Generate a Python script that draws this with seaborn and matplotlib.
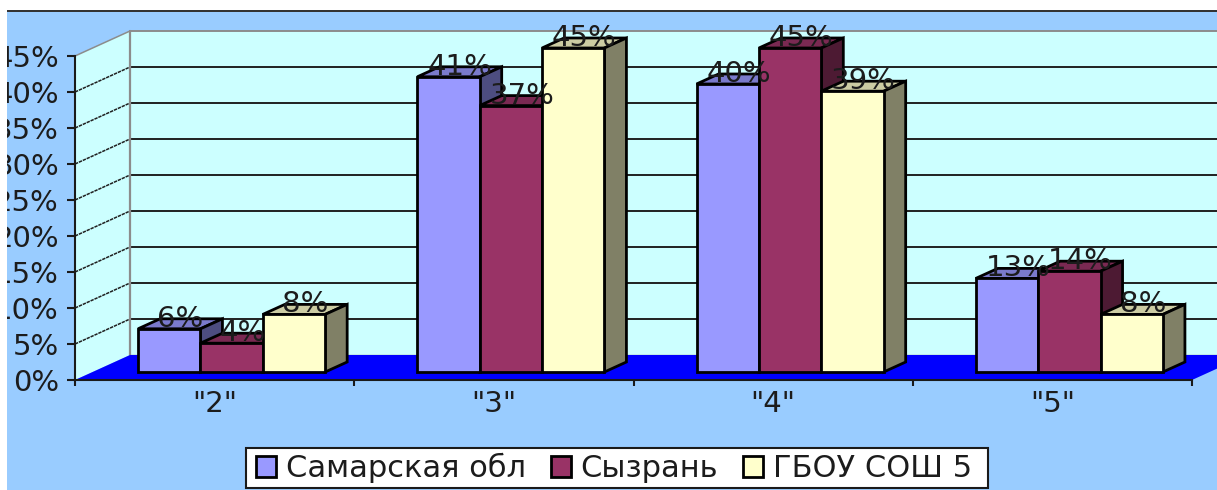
import matplotlib
matplotlib.use("Agg")
import matplotlib.pyplot as plt
from matplotlib.patches import Polygon, Rectangle
from matplotlib.ticker import FuncFormatter
import numpy as np
import pandas as pd
import seaborn as sns

categories = ['"2"', '"3"', '"4"', '"5"']
samara = [6, 41, 40, 13]
syzran = [4, 37, 45, 14]
school = [8, 45, 39, 8]
series_names = ["Самарская обл", "Сызрань", "ГБОУ СОШ 5"]
colors = ["#9999FF", "#993366", "#FFFFCC"]
yticks = list(range(0, 50, 5))

W, H = 1217, 490
BG, WALL, FLOOR = "#99CCFF", "#CCFFFF", "#0000FF"
TXT = "#1c1c1c"
FS = 21

sns.set_theme(style="white", rc={"font.family": ["DejaVu Sans"]})
fig = plt.figure(figsize=(W / 100, H / 100), dpi=100, facecolor=BG)
L, R, T, B = 75, 1192, 56, 380
ax = fig.add_axes([L / W, 1 - B / H, (R - L) / W, (B - T) / H])

df = pd.DataFrame({
    "cat": categories * 3,
    "series": [n for n in series_names for _ in categories],
    "value": samara + syzran + school,
})
sns.barplot(data=df, x="cat", y="value", hue="series", hue_order=series_names,
            palette=colors, saturation=1, width=0.67, gap=0, ax=ax, legend=True)
ax.set_xlim(-0.5, 3.5)
ax.set_ylim(0, 45)
ax.set_facecolor("none")
ax.set_xlabel("")
ax.set_ylabel("")
ppx = 4 / (R - L)           # data units per pixel on x
ppy = 45 / (B - T)          # data units per pixel on y

# walls and floor of the 3-D box
wx, wy = 55 * ppx, 25 * ppy
x0, x1 = -0.5, 3.5
ax.add_patch(Polygon([(x0 + wx, wy), (x1 + wx, wy), (x1 + wx, 45 + wy), (x0 + wx, 45 + wy)],
                     fc=WALL, ec="none", zorder=0.5, clip_on=False))
ax.add_patch(Polygon([(x0, 0), (x0 + wx, wy), (x0 + wx, 45 + wy), (x0, 45)],
                     fc=WALL, ec="none", zorder=0.5, clip_on=False))
ax.add_patch(Polygon([(x0, 0), (x1, 0), (x1 + wx, wy), (x0 + wx, wy)],
                     fc=FLOOR, ec="none", zorder=1, clip_on=False))
for t in yticks[1:]:
    top = t == yticks[-1]
    c = "#8c8c8c" if top else "#202020"
    ax.plot([x0 + wx, x1 + wx], [t + wy, t + wy], color=c, lw=1.4, zorder=0.8, clip_on=False)
    ax.plot([x0, x0 + wx], [t, t + wy], color=c, lw=1.1, ls=(0, (2.2, 0.6)) if not top else "-",
            zorder=0.8, clip_on=False)
ax.plot([x0 + wx, x0 + wx], [wy, 45 + wy], color="#8c8c8c", lw=1.6, zorder=0.9, clip_on=False)
ax.plot([x0 + wx, x1 + wx], [wy, wy], color="#8c8c8c", lw=1, zorder=0.9, clip_on=False)

# bars are moved into the box and given a top and a side
shift_x, shift_y = 17 * ppx, 8 * ppy
dx, dy = 22 * ppx, 10 * ppy
def shade(col, k):
    return tuple(v * k for v in matplotlib.colors.to_rgb(col))
bars = []
for s, (cont, col) in enumerate(zip(ax.containers, colors)):
    for c, bar in enumerate(cont):
        bars.append((c, s, bar, col))
for c, s, bar, col in sorted(bars, key=lambda b: (b[0], b[1])):
    bar.set_x(bar.get_x() + shift_x)
    bar.set_y(shift_y)
    xa, xb = bar.get_x(), bar.get_x() + bar.get_width()
    ya, yb = bar.get_y(), bar.get_y() + bar.get_height()
    z = 3 + c + s * 0.1
    bar.set(edgecolor="black", linewidth=2, zorder=z + 0.02, joinstyle="miter", clip_on=False)
    ax.add_patch(Polygon([(xa, yb), (xb, yb), (xb + dx, yb + dy), (xa + dx, yb + dy)],
                         fc=shade(col, 0.8), ec="black", lw=2, zorder=z, clip_on=False))
    ax.add_patch(Polygon([(xb, ya), (xb + dx, ya + dy), (xb + dx, yb + dy), (xb, yb)],
                         fc=shade(col, 0.5), ec="black", lw=2, zorder=z + 0.01, clip_on=False))
    ax.text((xa + xb) / 2 + dx / 2, yb + dy, f"{int(bar.get_height())}%", ha="center",
            va="center", fontsize=FS, color=TXT, zorder=20, clip_on=False)

# axes
sns.despine(ax=ax, top=True, right=True)
for side in ("left", "bottom"):
    ax.spines[side].set_color("#1a1a1a")
    ax.spines[side].set_linewidth(1.5)
    ax.spines[side].set_zorder(10)
ax.set_yticks(yticks)
ax.yaxis.set_major_formatter(FuncFormatter(lambda v, _: f"{int(v)}%"))
ax.set_xticks(np.arange(-0.5, 4), minor=True)
ax.tick_params(axis="y", left=True, length=5.5, width=1.5, color="#1a1a1a", pad=6,
               labelsize=FS, labelcolor=TXT)
ax.tick_params(axis="x", which="minor", bottom=True, length=4, width=1.5, color="#1a1a1a")
ax.tick_params(axis="x", which="major", bottom=False, pad=1, labelsize=FS, labelcolor=TXT)

# legend: white box of its own, entries without a frame
ax.add_artist(Rectangle((246 / W, 1 - 488 / H), 742 / W, 40 / H, transform=fig.transFigure,
                        fc="white", ec="#1a1a1a", lw=1.5, zorder=29, clip_on=False))
leg = ax.legend(loc="center", bbox_to_anchor=(614 / W, 1 - 468 / H), bbox_transform=fig.transFigure,
                ncol=3, frameon=False, fontsize=22, handlelength=0.65, handleheight=0.65,
                handletextpad=0.33, columnspacing=0.8, borderpad=0, borderaxespad=0,
                labelcolor=TXT)
leg.set_zorder(30)
for h in leg.get_patches():
    h.set_edgecolor("black")
    h.set_linewidth(2)

# picture frame: white strips and dark line of the original screenshot
fig.add_artist(Rectangle((0, 0), 7 / W, 1, transform=fig.transFigure, fc="white", ec="none", zorder=50))
fig.add_artist(Rectangle((0, 1 - 10 / H), 1, 10 / H, transform=fig.transFigure, fc="white", ec="none", zorder=50))
fig.add_artist(Rectangle((7 / W, 1 - 12 / H), 1, 2 / H, transform=fig.transFigure, fc="#333333", ec="none", zorder=51))

fig.savefig("out.png", dpi=100, facecolor=fig.get_facecolor())
